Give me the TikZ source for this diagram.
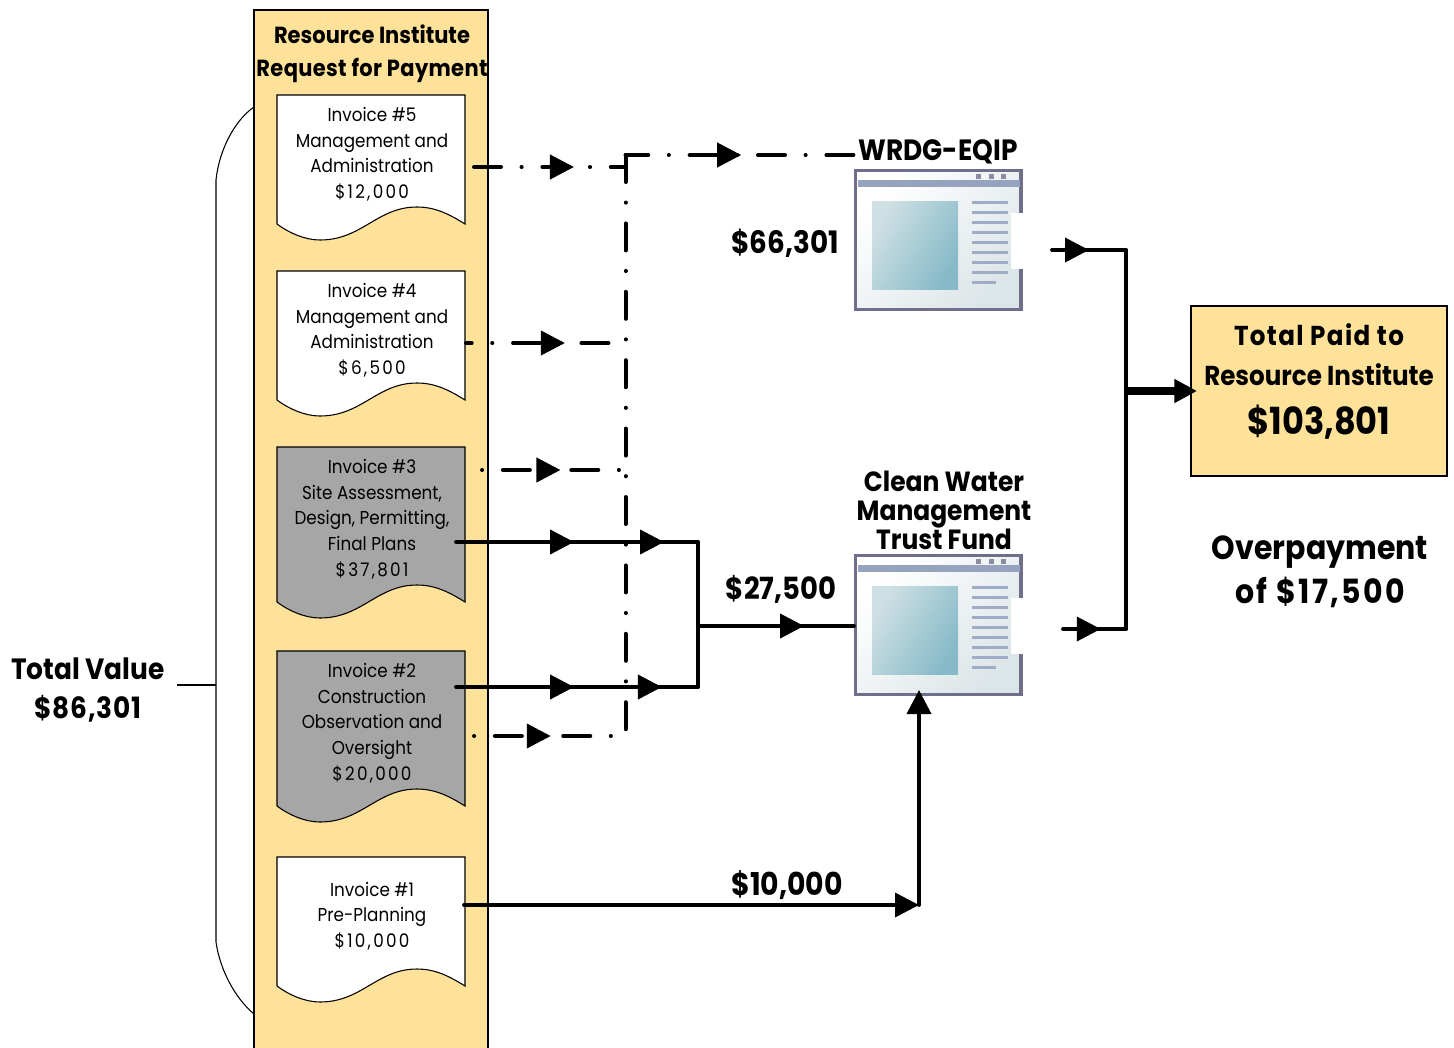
\documentclass[tikz,border=0pt]{standalone}
\usepackage{fontspec}
\setmainfont[FakeStretch=0.9]{Poppins}
\usetikzlibrary{arrows.meta,decorations.markings}
\definecolor{paper}{HTML}{FFE299}
\definecolor{shade}{HTML}{A6A6A6}
\definecolor{frame}{HTML}{6F6F8C}
\definecolor{bar}{HTML}{96A3BF}
\definecolor{pane}{HTML}{DCE5E8}
\definecolor{glassa}{HTML}{CFE0E4}
\definecolor{glassb}{HTML}{86BAC8}
\tikzstyle{panel} = [draw, line width=1.5pt, fill=paper]
\tikzstyle{doctext} = [align=center, font=\fontsize{14}{19.2}\selectfont, inner sep=0pt]
\tikzstyle{title} = [align=center, font=\fontsize{17.5}{24.5}\selectfont\bfseries, inner sep=0pt]
\tikzstyle{flow} = [line width=2.8pt, line cap=round]
\tikzstyle{dotdash} = [line width=3pt, line cap=round, dash pattern=on 20.25pt off 15.4pt on 0.1pt off 15.55pt]
\tikzstyle{window} = [draw=frame, line width=2.4pt, left color=white, right color=pane, shading angle=45, minimum width=124pt, minimum height=104pt, inner sep=0pt, anchor=north west]
\tikzset{tipat/.style={postaction={decorate,decoration={markings,mark=at position #1 with {\arrow{Triangle[length=18pt,width=18pt]}}}}}}
\newcommand{\spaced}[2]{{\addfontfeature{LetterSpace=#1}#2}}
\newcommand{\invoice}[5]{% name, left, top, side height, fill
  \begin{scope}[shift={(#2,#3)}]
  \draw[line width=0.8pt,fill=#5] (0,0) -- (188,0) -- (188,#4)
    .. controls (172,#4-10) and (158,#4-17) .. (140,#4-17)
    .. controls (100,#4-17) and (85,#4+16) .. (43,#4+16)
    .. controls (28,#4+16) and (12,#4+9) .. (0,#4) -- cycle;
  \coordinate (#1) at (95,0);
  \end{scope}
}
\newcommand{\windowicon}[2]{% name, top
  \begin{scope}[yshift=#2*-0.75pt]
  \node[window] (#1) at (854,-1) {};
  \fill[bar] (858,10) rectangle (1020,17);
  \foreach \sq in {976,989,1001} \fill[frame!80] (\sq,4) rectangle ++(5,5);
  \shade[left color=glassa,right color=glassb,shading angle=60] (872,31) rectangle (958,119);
  \foreach \ln in {31,41,...,101} \fill[bar!90] (972,\ln) rectangle ++(36,3);
  \fill[bar!90] (972,111) rectangle ++(24,3);
  \fill[white] (1011,43) rectangle (1026,99);
  \end{scope}
}
\begin{document}
\begin{tikzpicture}[x=0.75pt,y=-0.75pt]
	\useasboundingbox (0,0) rectangle (1454,1047);
	% the request column and what is inside it
	\path[panel] (254,10) rectangle (488,1060);
	\node [title] (head) at (372,54) {Resource Institute\\\spaced{1.5}{Request for Payment}};
	\invoice{doc5}{277}{95}{129}{white}
	\invoice{doc4}{277}{271}{129}{white}
	\invoice{doc3}{277}{447}{155}{shade}
	\invoice{doc2}{277}{651}{155}{shade}
	\invoice{doc1}{277}{857}{129}{white}
	\node [doctext,below=9.2pt] (t5) at (doc5) {Invoice \#5\\Management and\\Administration\\\spaced{12}{\$12,000}};
	\node [doctext,below=9.2pt] (t4) at (doc4) {Invoice \#4\\Management and\\Administration\\\spaced{12}{\$6,500}};
	\node [doctext,below=9.2pt] (t3) at (doc3) {Invoice \#3\\Site Assessment,\\Design, Permitting,\\Final Plans\\\spaced{12}{\$37,801}};
	\node [doctext,below=9.2pt] (t2) at (doc2) {Invoice \#2\\Construction\\Observation and\\Oversight\\\spaced{12}{\$20,000}};
	\node [doctext,below=18.5pt] (t1) at (doc1) {Invoice \#1\\Pre-Planning\\\spaced{12}{\$10,000}};

	% the two funds
	\windowicon{wrdg}{170}
	\windowicon{water}{555}
	\node [title,font=\fontsize{22}{24}\selectfont\bfseries] (wrdglabel) at (938,152) {WRDG-EQIP};
	\node [title,font=\fontsize{20.8}{21.7}\selectfont\bfseries] (waterlabel) at (944,510) {Clean Water\\Management\\Trust Fund};

	% total on the right
	\path[panel] (1191,306) rectangle (1447,476);
	\node [title,font=\fontsize{20.5}{30}\selectfont\bfseries] (paid) at (1319,355) {\spaced{5}{Total Paid to}\\Resource Institute};
	\node [title,font=\fontsize{28}{30}\selectfont\bfseries] (paidsum) at (1319,422) {\$103,801};
	\node [title,font=\fontsize{25}{33}\selectfont\bfseries] (over) at (1320,572) {Overpayment\\\spaced{7}{of \$17,500}};

	% amounts
	\node [title,font=\fontsize{23.2}{26}\selectfont\bfseries] (a1) at (785,243) {\$66,301};
	\node [title,font=\fontsize{22.9}{26}\selectfont\bfseries] (a2) at (781,589) {\$27,500};
	\node [title,font=\fontsize{23.6}{26}\selectfont\bfseries] (a3) at (787,885) {\$10,000};
	\node [title,font=\fontsize{22}{29}\selectfont\bfseries] (total) at (88,690) {Total Value\\\spaced{3}{\$86,301}};

	% brace
	\draw[line width=0.8pt] (254,107) .. controls (235,120) and (219,150) .. (216,180) -- (216,942) .. controls (220,970) and (235,998) .. (254,1014);
	\draw[line width=1pt] (177,685) -- (216,685);

	% free ends of the connectors
	\coordinate (c5) at (474,167);
	\coordinate (c4) at (466,343);
	\coordinate (c3) at (481,470);
	\coordinate (c2) at (473,736);
	\coordinate (s3) at (456,542);
	\coordinate (s2) at (456,687);
	\coordinate (s1) at (464,905);
	\coordinate (bus) at (698,626);
	\coordinate (j3) at (698,542);
	\coordinate (j2) at (698,687);
	\coordinate (rail) at (625.5,155);
	\coordinate (railend) at (625.5,736);
	\coordinate (up) at (919,905);
	\coordinate (o1) at (1052,250);
	\coordinate (o2) at (1063,629);
	\coordinate (r1) at (1126,250);
	\coordinate (r2) at (1126,629);
	\coordinate (r3) at (1124,391);

	% dash-dot feeds to WRDG-EQIP
	\draw [dotdash] (rail) -- (railend);
	\draw [dotdash,dash phase=3.2pt,tipat=0.497] (rail) -- (wrdglabel.west |- rail);
	\draw [dotdash,tipat=0.66] (c5) -- (rail |- c5);
	\draw [dotdash,dash phase=16pt,tipat=0.62] (c4) -- (rail |- c4);
	\draw [dotdash,dash phase=34.9pt,tipat=0.55] (c3) -- (rail |- c3);
	\draw [dotdash,dash phase=34.9pt,tipat=0.51] (c2) -- (railend);

	% solid feeds
	\draw [flow,tipat=0.488,tipat=0.86] (s3) -- (j3);
	\draw [flow,tipat=0.488,tipat=0.851] (s2) -- (j2);
	\draw [flow] (j3) -- (j2);
	\draw [flow,tipat=0.68] (bus) -- (water.west |- bus);
	\draw [flow,-{Triangle[length=18pt,width=18pt]}] (s1) -- (up);
	\draw [flow,-{Triangle[length=18pt,width=18pt]}] (up) -- (919,690);

	% out to the total
	\draw [flow,tipat=0.5] (o1) -- (r1);
	\draw [flow,tipat=0.6] (o2) -- (r2);
	\draw [flow] (r1) -- (r2);
	\draw [line width=6pt,-{Triangle[length=17pt,width=17pt]}] (r3) -- (1197,391);
\end{tikzpicture}
\end{document}
